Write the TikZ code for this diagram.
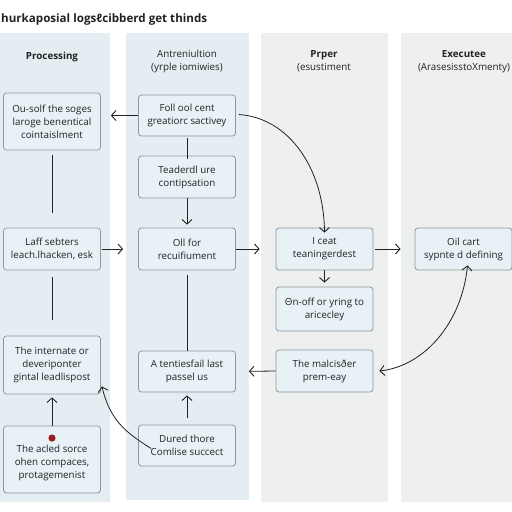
\documentclass[tikz,border=0pt]{standalone}
\usepackage{fontspec}
\setmainfont{Open Sans}
\usetikzlibrary{arrows.meta}
\definecolor{laneblue}{HTML}{E4EEF2}
\definecolor{lanegrey}{HTML}{EEEFEF}
\definecolor{boxfill}{HTML}{E8F1F5}
\definecolor{boxline}{HTML}{8E989C}
\definecolor{ink}{HTML}{222222}
\definecolor{dotred}{HTML}{9B1C1C}
\tikzset{
  stepbox/.style={draw=boxline, fill=boxfill, rounded corners=3pt, line width=0.8pt,
    minimum width=97pt, align=center, font=\fontsize{9.8}{13}\selectfont, text=ink, inner sep=1pt},
  hdr/.style={align=center, font=\fontsize{9.8}{13}\selectfont, text=ink},
  conn/.style={draw=ink, line width=0.8pt},
  arr/.style={conn, -{Straight Barb[length=4.5pt,width=10pt,line width=0.9pt]}},
  biarr/.style={conn, {Straight Barb[length=4.5pt,width=10pt,line width=0.9pt]}-{Straight Barb[length=4.5pt,width=10pt,line width=0.9pt]}}
}
\begin{document}
\begin{tikzpicture}[x=1pt,y=-1pt]
\useasboundingbox (0,0) rectangle (512,512);
\fill[white] (0,0) rectangle (512,512);
% lanes
\fill[laneblue] (0,33) rectangle (110,502);
\fill[laneblue] (126,33) rectangle (249,500);
\fill[lanegrey] (261,33) rectangle (388,502);
\fill[lanegrey] (401,33) rectangle (512,502);
% title
\node[anchor=west, font=\bfseries\fontsize{11.6}{14}\selectfont, text=ink, inner sep=0pt] (title) at (1,19) {hurkaposial logsℓcibberd get thinds};
% headers
\node[hdr, font=\bfseries\fontsize{9.8}{13}\selectfont] (h1) at (52,57) {Processing};
\node[hdr] (h2) at (187,61) {Antreniultion\\(yrple iomiwies)};
\node[hdr] (h3) at (324,61) {\textbf{Prper}\\(esustiment};
\node[hdr] (h4) at (464,62) {\textbf{Executee}\\(ArasesisstoXmenty)};
% lane 1
\node[stepbox, minimum height=57pt] (B1) at (52,121.5) {Ou-solf the soges\\laroge benentical\\cointaislment};
\node[stepbox, minimum height=42pt] (B2) at (52,249) {Laff sebters\\leach.lhacken, esk};
\node[stepbox, minimum height=58pt] (B3) at (52,365) {The internate or\\deveriponter\\gintal leadlispost};
\node[stepbox, minimum height=67pt] (B4) at (52,459.5) {\\[1pt]The acled sorce\\ohen compaces,\\protagemenist};
\fill[dotred] (52,438) circle (3.6pt);
% lane 2
\node[stepbox, minimum height=41pt] (C1) at (187,115.5) {Foll ool cent\\greatiorc sactivey};
\node[stepbox, minimum height=42pt] (C2) at (187,177) {Teaderdl ure\\contipsation};
\node[stepbox, minimum height=42pt] (C3) at (187,249) {Oll for\\recuifiument};
\node[stepbox, minimum height=41pt] (C4) at (187,371.5) {A tentiesfail last\\passel us};
\node[stepbox, minimum height=41pt] (C5) at (187,445.5) {Dured thore\\Comlise succect};
% lane 3
\node[stepbox, minimum height=42pt] (D1) at (324.5,249) {I ceat\\teaningerdest};
\node[stepbox, minimum height=44pt] (D2) at (324.5,309) {Θn-off or yring to\\aricecley};
\node[stepbox, minimum height=42pt] (D3) at (324.5,371) {The malcisðer\\prem-eay};
% lane 4
\node[stepbox, minimum height=42pt] (E1) at (463.5,249) {Oil cart\\sypnte d defining};
% connectors
\draw[arr, shorten >=10pt] (C1.west) -- (B1.east |- C1.west);
\draw[conn, shorten <=5pt, shorten >=15pt] (B1.south) -- (B2.north);
\draw[conn, shorten <=7pt, shorten >=16pt] (B2.south) -- (B3.north);
\draw[conn] (C1.south) ++(0,2) -- ([yshift=-3pt]C2.north);
\draw[arr, shorten >=3pt] (C2.south) -- (C3.north);
\draw[arr, shorten <=1pt, shorten >=15pt] (B2.east) -- (C3.west);
\draw[arr, shorten >=16pt] (C3.east) -- (D1.west);
\draw[arr] (C1.east) ++(3,-1) .. controls (290,118) and (324,170) .. ([yshift=-5pt]D1.north);
\draw[arr, shorten <=2pt, shorten >=14pt] (D1.east) -- (E1.west);
\draw[arr, shorten >=4pt] (D1.south) -- (D2.north);
\draw[biarr] ([xshift=6pt]D3.east) .. controls (425,366) and (462,322) .. ([xshift=4pt,yshift=5pt]E1.south);
\draw[arr, shorten >=13pt] (D3.west) -- (C4.east);
\draw[conn, shorten <=5pt] (C3.south) -- (C4.north);
\draw[arr, shorten <=7pt, shorten >=3pt] (C5.north) -- (C4.south);
\draw[arr] ([xshift=13pt,yshift=-3pt]C5.west) .. controls (125,432) and (110,420) .. ([xshift=1pt,yshift=8pt]B3.south east);
\draw[arr, shorten >=3pt] (B4.north) -- (B3.south);
\end{tikzpicture}
\end{document}
